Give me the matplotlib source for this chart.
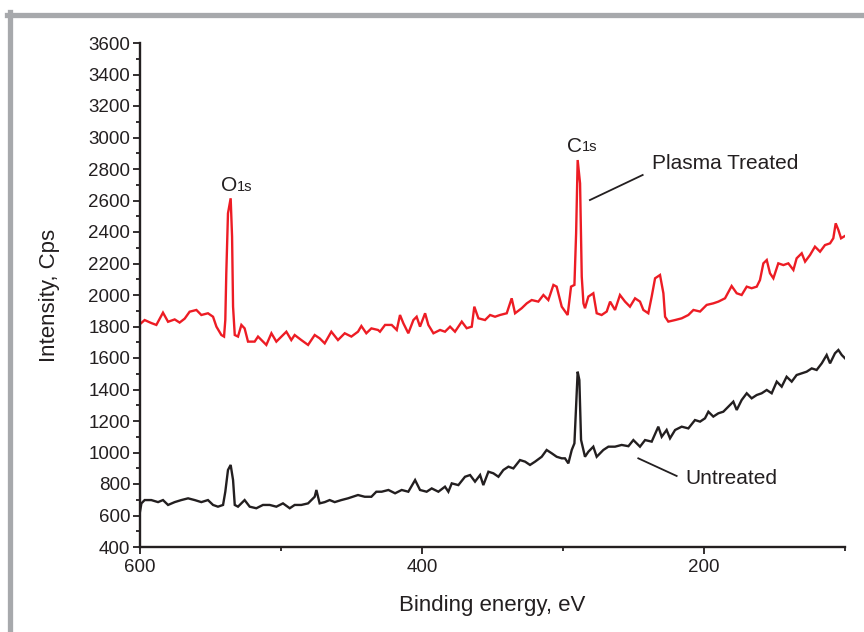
import matplotlib
matplotlib.use("Agg")
import matplotlib.pyplot as plt
from matplotlib.lines import Line2D
from matplotlib.ticker import MultipleLocator

plt.rcParams['font.family'] = ['Liberation Sans', 'DejaVu Sans']

# ---- data: Plasma treated (red) ----
red_E = [600.0, 596.7, 592.0, 588.4, 583.7, 580.1, 575.4, 571.9, 568.3, 564.8, 560.0, 556.5,
         551.8, 548.2, 545.8, 542.3, 540.4, 539.5, 538.8, 537.6, 535.7, 534.7, 534.0, 532.8,
         530.5, 528.1, 525.8, 523.4, 518.7, 516.3, 512.8, 510.4, 506.8, 503.3, 499.7, 496.2,
         492.7, 490.3, 485.6, 480.8, 476.1, 472.6, 469.0, 464.3, 459.6, 454.8, 450.1, 445.4,
         443.0, 439.5, 435.9, 431.2,
         429.8, 426.2, 421.5, 417.9, 415.6, 413.2, 409.7, 406.1, 403.8, 401.4, 397.8, 395.5,
         391.9, 387.2, 383.7, 380.1, 376.6, 371.8, 368.3, 364.7, 362.9, 360.0, 355.3, 351.7,
         348.2, 344.7, 339.9, 336.4, 334.0, 329.3, 325.7, 322.2, 317.5, 313.9, 310.4, 306.8,
         304.5, 300.9, 296.7, 294.3, 291.9, 290.7, 289.6, 287.9, 286.7, 285.5, 284.4, 282.0,
         278.5, 276.1, 272.6, 269.0, 266.6,
         263.1, 259.6, 256.0, 252.5, 248.9, 245.4, 243.0, 239.5, 237.1, 234.7, 231.2, 228.8,
         227.6, 225.3, 220.5, 215.8, 211.1, 207.5, 202.8, 198.1, 193.4, 189.8, 185.1, 180.4,
         176.8, 173.3, 169.7, 166.2, 162.6, 160.3, 157.9, 155.5, 153.2, 150.8, 147.3, 143.7,
         140.2, 136.6, 134.3, 130.7, 128.3, 124.8, 121.3, 117.7, 114.2, 110.6, 108.3, 106.6,
         104.7, 102.8, 100.0]
red_I = [1815, 1841, 1822, 1810, 1888, 1830, 1845, 1825, 1850, 1894, 1905, 1873,
         1884, 1862, 1799, 1746, 1736, 1841, 2138, 2519, 2614, 2370, 1926, 1746,
         1736, 1810, 1788, 1704, 1704, 1736, 1704, 1683, 1757, 1704, 1736, 1767,
         1714, 1746, 1714, 1683, 1746, 1725, 1693, 1767, 1714, 1757, 1736, 1767,
         1803, 1757, 1788, 1778,
         1767, 1810, 1810, 1778, 1873, 1820, 1757, 1841, 1862, 1799, 1884, 1810,
         1757, 1778, 1767, 1799, 1767, 1831, 1789, 1799, 1926, 1852, 1841, 1873,
         1862, 1873, 1884, 1979, 1884, 1916, 1947, 1968, 1958, 2000, 1968, 2064,
         2053, 1926, 1873, 2053, 2064, 2392, 2857, 2709, 2116, 1947, 1916, 1990,
         2011, 1884, 1873, 1895, 1958,
         1905, 2000, 1958, 1926, 1979, 1958, 1905, 1884, 1990, 2106, 2127, 2011,
         1862, 1831, 1841, 1852, 1873, 1905, 1895, 1937, 1947, 1958, 1979, 2057,
         2011, 2000, 2053, 2043, 2053, 2095, 2201, 2222, 2138, 2106, 2201, 2190,
         2201, 2159, 2233, 2265, 2212, 2254, 2307, 2275, 2317, 2328, 2360, 2455,
         2413, 2360, 2375]

# ---- data: Untreated (black) ----
blk_E = [600.0, 599.0, 596.7, 592.0, 587.2, 583.7, 580.1, 575.4, 570.7, 565.9, 561.2, 556.5,
         551.8, 548.2, 544.7, 541.1, 539.5, 537.6, 535.7, 534.0, 532.8, 530.5, 525.8, 522.2,
         517.5, 512.8, 508.0, 503.3, 498.6, 493.8, 490.3, 485.6, 480.8, 476.1, 474.9, 472.6,
         469.0, 465.5, 461.9, 457.2, 452.5, 445.4, 440.6, 435.9, 432.4,
         428.6, 423.8, 419.1, 414.4, 409.7, 404.9, 401.4, 396.7, 393.1, 388.4, 383.7, 381.3,
         378.9, 374.2, 369.5, 365.9, 362.4, 358.8, 356.5, 352.9, 349.4, 345.8, 342.3, 338.7,
         335.2, 330.5, 326.9, 323.4, 319.8, 315.1, 311.6, 308.0, 304.5, 300.9, 298.6, 296.2,
         293.8, 291.9, 290.7, 289.6, 288.4, 287.2, 285.5, 284.4, 282.0, 278.5, 276.1, 271.4,
         267.8,
         263.1, 258.4, 253.6, 250.1, 245.4, 241.8, 237.1, 232.4, 230.0, 226.5, 224.1, 220.5,
         215.8, 211.1, 206.4, 202.8, 199.3, 196.9, 193.4, 189.8, 186.3, 182.7, 179.2, 176.8,
         173.3, 169.7, 166.2, 162.6, 159.1, 155.5, 152.0, 148.4, 144.9, 141.4, 137.8, 134.3,
         130.7, 127.2, 123.6, 120.1, 116.5, 113.0, 110.6, 107.1, 104.7, 102.3, 100.0]
blk_I = [625, 677, 698, 698, 685, 698, 667, 685, 698, 709, 698, 685,
         698, 667, 656, 667, 751, 889, 921, 825, 667, 656, 698, 656,
         646, 667, 667, 656, 677, 646, 667, 667, 677, 719, 762, 677,
         685, 698, 685, 698, 709, 730, 719, 719, 751,
         751, 762, 741, 762, 751, 825, 762, 751, 772, 751, 783, 751,
         804, 793, 846, 857, 815, 857, 793, 878, 868, 846, 889, 910,
         899, 952, 942, 921, 942, 973, 1016, 995, 973, 963, 963, 931,
         1016, 1058, 1291, 1513, 1460, 1080, 1016, 973, 1005, 1037, 973, 1016,
         1037,
         1037, 1048, 1040, 1079, 1037, 1079, 1069, 1164, 1100, 1143, 1090, 1143,
         1164, 1153, 1206, 1196, 1217, 1259, 1228, 1249, 1259, 1291, 1323, 1270,
         1333, 1376, 1344, 1365, 1376, 1397, 1376, 1450, 1418, 1481, 1450, 1492,
         1503, 1513, 1534, 1524, 1566, 1619, 1566, 1630, 1651, 1619, 1598]

x_label = "Binding energy, eV"
y_label = "Intensity, Cps"

fig = plt.figure(figsize=(8.64, 6.32), dpi=100)
ax = fig.add_axes([140/864, 1 - 547/632, (845-140)/864, (547-43)/632])

ax.plot(red_E, red_I, color='#ed1c24', lw=1.7, solid_joinstyle='miter')
ax.plot(blk_E, blk_I, color='#231f20', lw=1.7, solid_joinstyle='miter')

ax.set_xlim(600, 100)
ax.set_ylim(400, 3600)
ax.xaxis.set_major_locator(MultipleLocator(200))
ax.xaxis.set_minor_locator(MultipleLocator(100))
ax.yaxis.set_major_locator(MultipleLocator(200))
ax.yaxis.set_minor_locator(MultipleLocator(100))

for s in ['top', 'right']:
    ax.spines[s].set_visible(False)
for s in ['left', 'bottom']:
    ax.spines[s].set_linewidth(1.7)
    ax.spines[s].set_color('#231f20')

ax.tick_params(which='major', direction='out', length=5, width=1.3, color='#231f20',
               labelsize=13.5, labelcolor='#231f20')
ax.tick_params(which='minor', direction='out', length=3, width=1.3, color='#231f20')
ax.tick_params(axis='y', which='major', pad=2)
ax.tick_params(axis='x', which='major', pad=4)

ax.set_xlabel(x_label, fontsize=16, color='#231f20', labelpad=13)
ax.set_ylabel(y_label, fontsize=16, color='#231f20', labelpad=20)

# peak labels
tO = ax.text(542.6, 2660, "O", fontsize=15, color='#231f20', ha='left', va='baseline')
ax.annotate("1s", xy=(1, 0), xycoords=tO, fontsize=10.5, color='#231f20',
            ha='left', va='bottom', xytext=(0, 1), textcoords='offset points')
tC = ax.text(297.2, 2910, "C", fontsize=15, color='#231f20', ha='left', va='baseline')
ax.annotate("1s", xy=(1, 0), xycoords=tC, fontsize=10.5, color='#231f20',
            ha='left', va='bottom', xytext=(0, 1), textcoords='offset points')

# series labels with leader lines
ax.plot([280.9, 243.5], [2603, 2762], color='#231f20', lw=1.3)
ax.text(236.9, 2832, "Plasma Treated", fontsize=15, color='#231f20', ha='left', va='center')
ax.plot([246.6, 219.4], [963, 851], color='#231f20', lw=1.3)
ax.text(213.5, 838, "Untreated", fontsize=15, color='#231f20', ha='left', va='center')

# gray frame (top and left)
fig.add_artist(Line2D([7/864, 1.0], [1 - 14.5/632, 1 - 14.5/632], transform=fig.transFigure,
                      color='#a7a9ac', lw=3.8))
fig.add_artist(Line2D([9.5/864, 9.5/864], [0, 1 - 12/632], transform=fig.transFigure,
                      color='#a7a9ac', lw=3.8))

fig.savefig("out.png", dpi=100)
